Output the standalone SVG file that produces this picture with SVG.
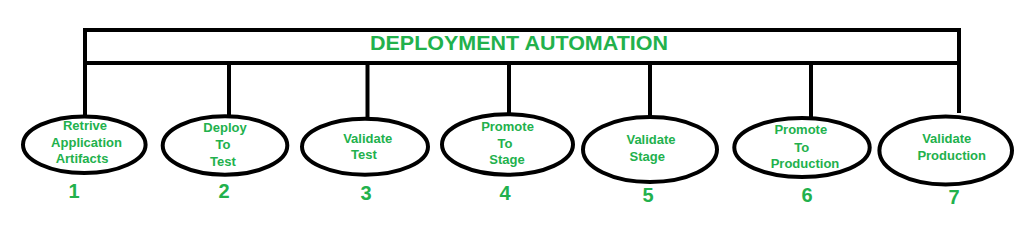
<svg xmlns="http://www.w3.org/2000/svg" width="1035" height="239" viewBox="0 0 1035 239">
<style>
.ln{stroke:#000;stroke-width:4;fill:none}
.el{stroke:#000;stroke-width:4;fill:#fff}
.t{font-family:"Liberation Sans",Arial,sans-serif;font-weight:bold;fill:#22b14c;text-anchor:middle;font-size:13px}
.n{font-family:"Liberation Sans",Arial,sans-serif;font-weight:bold;fill:#22b14c;text-anchor:middle;font-size:20px}
.title{font-family:"Liberation Sans",Arial,sans-serif;font-weight:bold;fill:#22b14c;font-size:20px}
</style>
<rect width="1035" height="239" fill="#fff"/>
<g id="header">
<rect class="ln" x="85" y="30" width="874" height="33"/>
<text class="title" x="370" y="50" textLength="298" lengthAdjust="spacingAndGlyphs">DEPLOYMENT AUTOMATION</text>
</g>
<g id="connectors">
<line class="ln" x1="85" y1="63" x2="85" y2="115"/>
<line class="ln" x1="229" y1="63" x2="229" y2="115"/>
<line class="ln" x1="367.5" y1="63" x2="367.5" y2="117"/>
<line class="ln" x1="509" y1="63" x2="509" y2="113"/>
<line class="ln" x1="650" y1="63" x2="650" y2="116"/>
<line class="ln" x1="811" y1="63" x2="811" y2="117"/>
<line class="ln" x1="959" y1="63" x2="959" y2="113"/>
</g>
<g id="node1">
<ellipse class="el" cx="84.3" cy="144.7" rx="61.3" ry="28.3"/>
<text class="t" x="85" y="130">Retrive</text>
<text class="t" x="86.5" y="146.7">Application</text>
<text class="t" x="82" y="163">Artifacts</text>
<text class="n" x="74" y="198">1</text>
</g>
<g id="node2">
<ellipse class="el" cx="225" cy="145.5" rx="62.3" ry="29.2"/>
<text class="t" x="225" y="131.7">Deploy</text>
<text class="t" x="223" y="149">To</text>
<text class="t" x="223" y="165.7">Test</text>
<text class="n" x="224" y="198">2</text>
</g>
<g id="node3">
<ellipse class="el" cx="365" cy="146.7" rx="63" ry="28"/>
<text class="t" x="367.7" y="142.7">Validate</text>
<text class="t" x="364" y="159.3">Test</text>
<text class="n" x="366" y="200">3</text>
</g>
<g id="node4">
<ellipse class="el" cx="507.5" cy="144.5" rx="65.5" ry="30.2"/>
<text class="t" x="507.5" y="131">Promote</text>
<text class="t" x="505" y="148.3">To</text>
<text class="t" x="507" y="164.3">Stage</text>
<text class="n" x="505" y="200">4</text>
</g>
<g id="node5">
<ellipse class="el" cx="650" cy="149.5" rx="67" ry="32.5"/>
<text class="t" x="651" y="144.3">Validate</text>
<text class="t" x="647.3" y="161">Stage</text>
<text class="n" x="648" y="202">5</text>
</g>
<g id="node6">
<ellipse class="el" cx="802" cy="147.5" rx="67.7" ry="29.5"/>
<text class="t" x="800.8" y="134.3">Promote</text>
<text class="t" x="801.7" y="151.7">To</text>
<text class="t" x="805" y="168.3">Production</text>
<text class="n" x="807" y="201.5">6</text>
</g>
<g id="node7">
<ellipse class="el" cx="945.7" cy="150.5" rx="66.3" ry="34"/>
<text class="t" x="946.7" y="143.3">Validate</text>
<text class="t" x="951.7" y="160">Production</text>
<text class="n" x="954" y="204">7</text>
</g>
</svg>
